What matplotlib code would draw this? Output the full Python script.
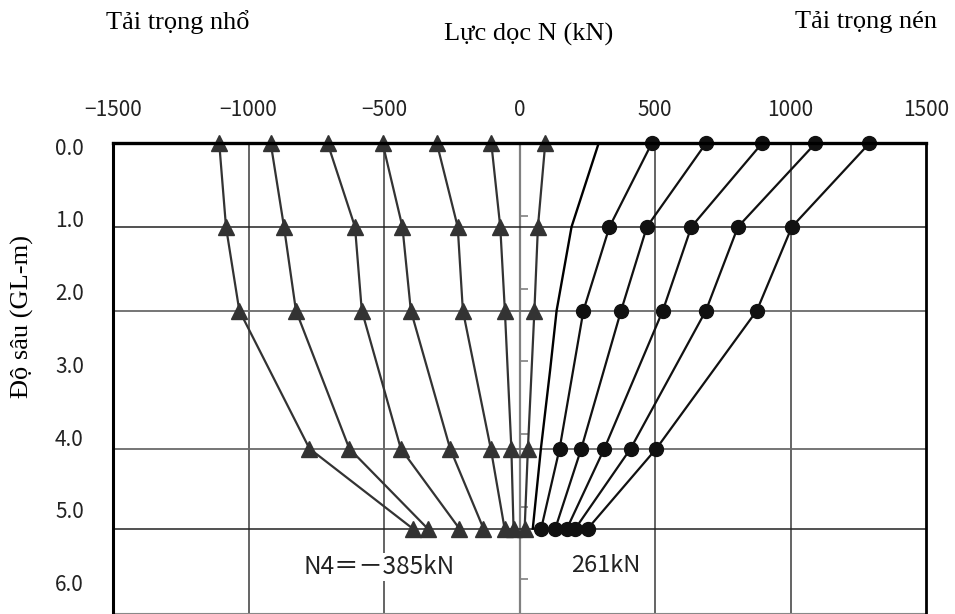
import matplotlib
matplotlib.use("Agg")
import matplotlib.pyplot as plt
import matplotlib.transforms as mtransforms
import numpy as np

# ---- data ----
depths = [0.0, 1.15, 2.3, 4.2, 5.3]

uplift_series = [
    [-1108, -1083, -1034, -775, -394],
    [-918, -869, -825, -628, -339],
    [-708, -607, -582, -438, -222],
    [-505, -432, -401, -256, -133],
    [-305, -228, -209, -106, -55],
    [-104, -71, -54, -30, -22],
    [95, 68, 55, 31, 19],
]

compress_series = [
    [488, 332, 236, 148, 80],
    [688, 470, 375, 228, 132],
    [895, 634, 529, 313, 175],
    [1092, 806, 688, 410, 206],
    [1291, 1005, 876, 505, 252],
]

curve_depths = [0.0, 1.15, 2.3, 3.12, 4.2, 5.3]
curve_values = [292, 192, 137, 113, 79, 49]

x_ticks = [-1500, -1000, -500, 0, 500, 1000, 1500]
y_ticks = [0, 1, 2, 3, 4, 5, 6]
y_tick_labels = ["0.0", "1.0", "2.0", "3.0", "4.0", "5.0", "6.0"]
v_grid = [-1000, -500, 500, 1000]
h_grid_dark = [1.15, 5.3]
h_grid_gray = [2.3, 4.2]
zero_ticks = [1, 2, 3, 4, 5, 6]

title_left = "Tải trọng nhổ"
title_mid = "Lực dọc N (kN)"
title_right = "Tải trọng nén"
ylabel = "Độ sâu (GL-m)"
note_left = "N4＝－385kN"
note_right = "261kN"

# ---- figure ----
W, H = 955, 614
fig = plt.figure(figsize=(W / 100, H / 100), dpi=100)
ax_l, ax_r = 113 / W, 926 / W
ax_t, ax_b = 1 - 143.3 / H, 1 - 612.7 / H
ax = fig.add_axes([ax_l, ax_b, ax_r - ax_l, ax_t - ax_b])
ax.set_xlim(-1500, 1500)
ax.set_ylim(6.457, 0)

sans = ["Noto Sans CJK JP", "DejaVu Sans"]
serif = ["Liberation Serif", "DejaVu Serif"]

# grid
for gx in v_grid:
    ax.axvline(gx, color="#3a3a3a", lw=1.1, zorder=1)
ax.axvline(0, color="#808080", lw=1.6, zorder=1)
for gy in h_grid_dark:
    ax.axhline(gy, color="#222222", lw=1.1, zorder=1)
for gy in h_grid_gray:
    ax.axhline(gy, color="#6a6a6a", lw=1.3, zorder=1)
ax.plot(np.zeros(len(zero_ticks)), zero_ticks, ls="none", marker=1,
        ms=6, mew=1.2, color="#808080", zorder=1)

# series
for s in uplift_series:
    ax.plot(s, depths, color="#333333", lw=1.6, marker="^", ms=11.5,
            mec="#333333", mfc="#333333", zorder=3, clip_on=False)
for s in compress_series:
    ax.plot(s, depths, color="#111111", lw=1.6, marker="o", ms=10,
            mec="#111111", mfc="#111111", zorder=4, clip_on=False)
ax.plot(curve_values, curve_depths, color="#000000", lw=1.7, zorder=3)

# spines
ax.spines["top"].set_linewidth(2.4)
ax.spines["left"].set_linewidth(2.2)
ax.spines["right"].set_linewidth(2.0)
ax.spines["bottom"].set_linewidth(0.8)
ax.spines["bottom"].set_color("#888888")
for k in ["top", "left", "right"]:
    ax.spines[k].set_color("black")
    ax.spines[k].set_zorder(5)

# ticks
ax.xaxis.set_ticks_position("top")
ax.set_xticks(x_ticks)
ax.set_xticklabels([f"{v}".replace("-", "\u2212") for v in x_ticks])
ax.tick_params(axis="x", length=0, pad=16, labelsize=15)
ax.set_yticks(y_ticks)
ax.set_yticklabels(y_tick_labels)
ax.tick_params(axis="y", length=0, pad=21, labelsize=15)
for lbl in ax.get_xticklabels() + ax.get_yticklabels():
    lbl.set_family(sans)
    lbl.set_color("#222222")
off = mtransforms.ScaledTranslation(0, -3 / 100, fig.dpi_scale_trans)
for lbl in ax.get_yticklabels():
    lbl.set_transform(lbl.get_transform() + off)

# texts
fig.text(178 / W, 1 - 22 / H, title_left, family=serif, fontsize=19,
         ha="center", va="center")
fig.text(529 / W, 1 - 34 / H, title_mid, family=serif, fontsize=19,
         ha="center", va="center")
fig.text(866 / W, 1 - 22 / H, title_right, family=serif, fontsize=19,
         ha="center", va="center")
fig.text(22 / W, 1 - 316 / H, ylabel, family=serif, fontsize=19,
         ha="center", va="center", rotation=90)

ax.text(-517, 5.83, note_left, family=sans, fontsize=17.5, ha="center",
        va="center", color="#222222", zorder=6,
        bbox=dict(facecolor="white", edgecolor="none", pad=0.5))
ax.text(318, 5.81, note_right, family=sans, fontsize=17, ha="center",
        va="center", color="#222222", zorder=6)

fig.savefig("out.png", dpi=100)
